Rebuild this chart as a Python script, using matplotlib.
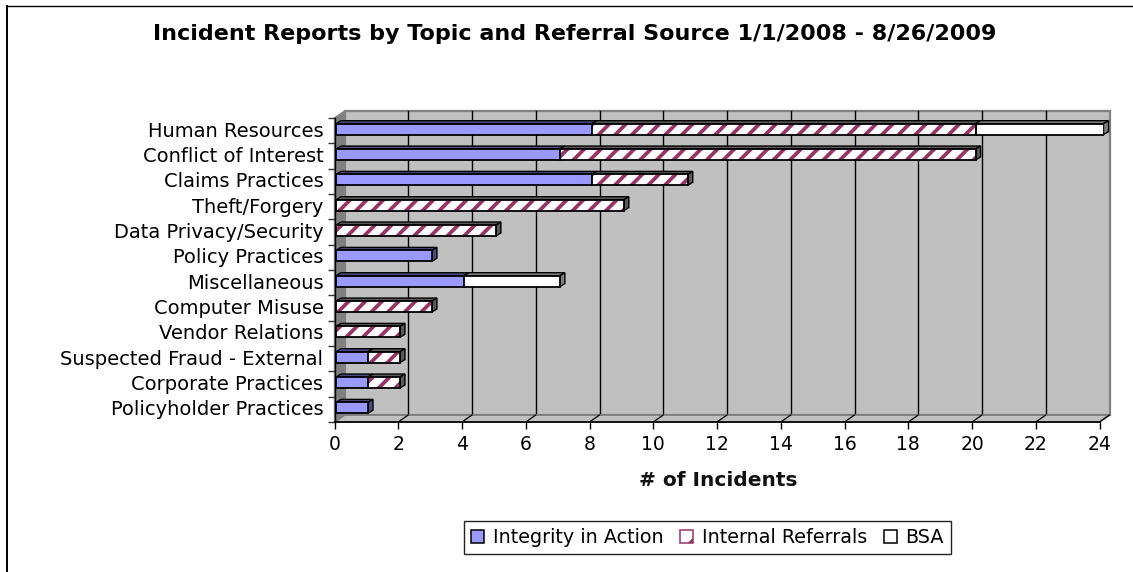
import matplotlib
matplotlib.use('Agg')
import matplotlib.pyplot as plt
from matplotlib.patches import Polygon, Rectangle
from matplotlib.transforms import Affine2D

categories = ['Human Resources', 'Conflict of Interest', 'Claims Practices', 'Theft/Forgery',
              'Data Privacy/Security', 'Policy Practices', 'Miscellaneous', 'Computer Misuse',
              'Vendor Relations', 'Suspected Fraud - External', 'Corporate Practices',
              'Policyholder Practices']
integrity = [8, 7, 8, 0, 0, 3, 4, 0, 0, 1, 1, 1]
internal = [12, 13, 3, 9, 5, 0, 0, 3, 2, 1, 1, 0]
bsa = [4, 0, 0, 0, 0, 0, 3, 0, 0, 0, 0, 0]
x_ticks = list(range(0, 25, 2))

W, H = 1133, 572
LEFT, RIGHT, TOP, BOTTOM = 334.5, 1099.5, 118, 422
WALL_DX, WALL_DY = 10, 7
BAR_DX, BAR_DY = 5, 3
BAR_H = 0.43

BLUE, BLUE_DK = '#9999FF', '#4C4C80'
MAROON = '#993366'
GREY, GREY_DK = '#C0C0C0', '#808080'

plt.rcParams['font.family'] = ['DejaVu Sans']
plt.rcParams['hatch.linewidth'] = 2.7

fig = plt.figure(figsize=(W / 100, H / 100), dpi=100, facecolor='white')


def px_axes(left, right, top, bottom):
    # axes box given in image pixels
    a = fig.add_axes([left / W, 1 - bottom / H, (right - left) / W, (bottom - top) / H])
    a.set_xlim(0, 24)
    a.set_ylim(len(categories) - 0.5, -0.5)
    a.patch.set_visible(False)
    return a


ax = px_axes(LEFT, RIGHT, TOP, BOTTOM)
for s in ['top', 'right']:
    ax.spines[s].set_visible(False)

# the bars sit a little way into the depth of the chart so get their own axes
bx = px_axes(336, 1103.5, TOP - 1.5, BOTTOM - 1.5)
bx.axis('off')

wall = ax.transData + Affine2D().translate(WALL_DX, WALL_DY)
ymax, ymin = ax.get_ylim()


def skew(a, x0, y0, x1, y1, dx, dy):
    # parallelogram going back from a data edge, in pixels
    p0 = a.transData.transform((x0, y0))
    p1 = a.transData.transform((x1, y1))
    return [p0, p1, p1 + (dx, dy), p0 + (dx, dy)]


# back wall, side wall and floor
ax.add_patch(Rectangle((0, ymin), 24, ymax - ymin, transform=wall, fc=GREY, ec=GREY_DK, lw=1.6,
                       clip_on=False, zorder=0.5))
for x in x_ticks[1:-1]:
    ax.plot([x, x], [ymin, ymax], color='black', lw=1.0, transform=wall, clip_on=False, zorder=0.6)
ax.add_patch(Polygon(skew(ax, 0, ymax, 24, ymax, WALL_DX, WALL_DY), closed=True, fc=GREY, ec=GREY_DK,
                     lw=1.4, transform=None, clip_on=False, zorder=0.7))
ax.add_patch(Polygon(skew(ax, 0, ymin, 0, ymax, WALL_DX, WALL_DY), closed=True, fc=GREY_DK, ec=GREY_DK,
                     lw=1, transform=None, clip_on=False, zorder=0.7))
for x in x_ticks[1:]:
    pts = skew(ax, x, ymax, x, ymax, WALL_DX, WALL_DY)
    ax.plot([pts[0][0], pts[2][0]], [pts[0][1], pts[2][1]], color='black', lw=0.9, transform=None,
            clip_on=False, zorder=0.8)

# stacked bars
for i in range(len(categories)):
    start = 0
    segments = [(integrity[i], BLUE, BLUE_DK, None), (internal[i], 'white', '#5A5A5A', '//'),
                (bsa[i], 'white', GREY_DK, None)]
    last = max(k for k, s in enumerate(segments) if s[0] > 0)
    for k, (val, fc, top_c, hatch) in enumerate(segments):
        if val == 0:
            continue
        stop = start + val
        bx.add_patch(Polygon(skew(bx, start, i - BAR_H / 2, stop, i - BAR_H / 2, BAR_DX, BAR_DY),
                             closed=True, fc=top_c, ec='black', lw=1.0, transform=None,
                             clip_on=False, zorder=2))
        if k == last:
            bx.add_patch(Polygon(skew(bx, stop, i - BAR_H / 2, stop, i + BAR_H / 2, BAR_DX, BAR_DY),
                                 closed=True, fc=top_c, ec='black', lw=1.0, transform=None,
                                 clip_on=False, zorder=2))
        if hatch:
            bx.barh(i, val, left=start, height=BAR_H, color='white', edgecolor=MAROON, hatch=hatch,
                    lw=0, zorder=3)
            bx.barh(i, val, left=start, height=BAR_H, fill=False, edgecolor='black', lw=1.3, zorder=4)
        else:
            bx.barh(i, val, left=start, height=BAR_H, color=fc, edgecolor='black', lw=1.3, zorder=3)
        start = stop

# axes
ax.set_xticks(x_ticks)
ax.tick_params(axis='x', length=5, width=1, pad=4.5, labelsize=13.5)
ax.set_yticks([i - 0.5 for i in range(len(categories) + 1)])
ax.set_yticklabels([])
ax.tick_params(axis='y', length=5, width=1, color='#333333')
ax.set_yticks(range(len(categories)), minor=True)
ax.set_yticklabels(categories, minor=True, fontsize=14)
ax.tick_params(axis='y', which='minor', length=0, pad=8)
for lab in ax.get_yticklabels(minor=True):
    lab.set_transform(lab.get_transform() + Affine2D().translate(0, 1.5))
ax.spines['left'].set_linewidth(1.0)
ax.spines['bottom'].set_linewidth(1.2)

fig.text(575 / W, 1 - 34.5 / H, 'Incident Reports by Topic and Referral Source 1/1/2008 - 8/26/2009',
         ha='center', va='center', fontsize=16, fontweight='bold')
fig.text(718 / W, 1 - 481 / H, '# of Incidents', ha='center', va='center', fontsize=14.5,
         fontweight='bold', color='#111111')

# legend
handles = [Rectangle((0, 0), 1, 1, fc=BLUE, ec='black', lw=1.1),
           Rectangle((0, 0), 1, 1, fc='white', ec=MAROON, hatch='/', lw=1.1),
           Rectangle((0, 0), 1, 1, fc='white', ec='black', lw=1.1)]
leg = fig.legend(handles, ['Integrity in Action', 'Internal Referrals', 'BSA'], ncol=3,
                 loc='center', bbox_to_anchor=(707.5 / W, 1 - 537.5 / H), fontsize=13.8,
                 fancybox=False, framealpha=1, edgecolor='#222222', handlelength=0.7,
                 handleheight=0.7, handletextpad=0.45, columnspacing=0.85, borderpad=0.38,
                 borderaxespad=0)
leg.get_frame().set_linewidth(1.0)

# chart area border
fig.add_artist(plt.Line2D([6.5 / W, 6.5 / W], [0, 1 - 5.5 / H], color='black', lw=1.4))
fig.add_artist(plt.Line2D([6.5 / W, 1], [1 - 5.5 / H, 1 - 5.5 / H], color='black', lw=1.0))

fig.savefig('out.png', dpi=100)
